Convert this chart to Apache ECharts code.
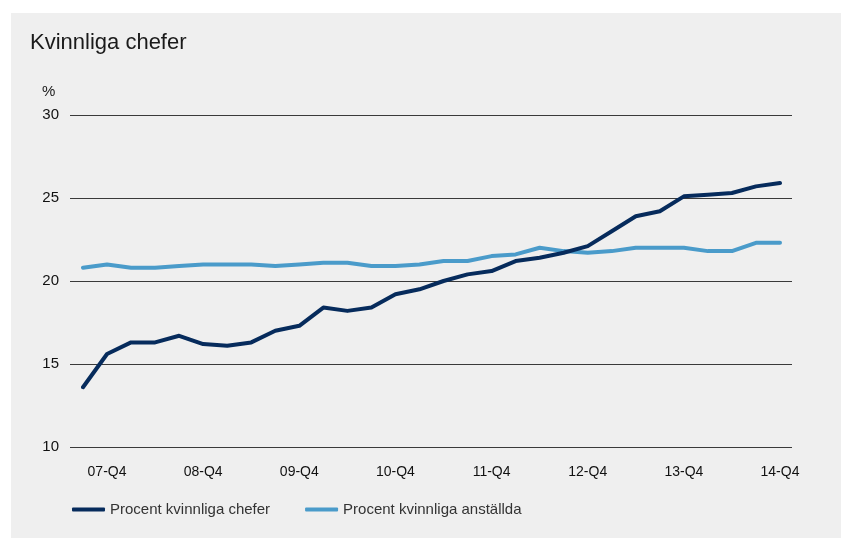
<!DOCTYPE html>
<html>
<head>
<meta charset="utf-8">
<script src="https://cdn.jsdelivr.net/npm/echarts@6/dist/echarts.min.js"></script>
<style>
html,body{margin:0;padding:0;background:#ffffff;}
#chart{position:absolute;left:11px;top:13px;width:830px;height:525px;background:#efefef;}
</style>
</head>
<body>
<div id="chart"></div>
<script>
var categories = ['07-Q3','07-Q4','08-Q1','08-Q2','08-Q3','08-Q4','09-Q1','09-Q2','09-Q3','09-Q4',
  '10-Q1','10-Q2','10-Q3','10-Q4','11-Q1','11-Q2','11-Q3','11-Q4','12-Q1','12-Q2',
  '12-Q3','12-Q4','13-Q1','13-Q2','13-Q3','13-Q4','14-Q1','14-Q2','14-Q3','14-Q4'];
var chefer = [13.6,15.6,16.3,16.3,16.7,16.2,16.1,16.3,17.0,17.3,
  18.4,18.2,18.4,19.2,19.5,20.0,20.4,20.6,21.2,21.4,
  21.7,22.1,23.0,23.9,24.2,25.1,25.2,25.3,25.7,25.9];
var anstallda = [20.8,21.0,20.8,20.8,20.9,21.0,21.0,21.0,20.9,21.0,
  21.1,21.1,20.9,20.9,21.0,21.2,21.2,21.5,21.6,22.0,
  21.8,21.7,21.8,22.0,22.0,22.0,21.8,21.8,22.3,22.3];
var yTicks = [10, 15, 20, 25, 30];
var seriesNames = ['Procent kvinnliga chefer', 'Procent kvinnliga anställda'];
var titleText = 'Kvinnliga chefer';
var unitText = '%';

var FONT = '"Liberation Sans", Arial, Helvetica, sans-serif';
var chart = echarts.init(document.getElementById('chart'), null, {renderer: 'canvas'});
var option = {
  backgroundColor: 'transparent',
  animation: false,
  title: {
    text: titleText, left: 14, top: 14,
    textStyle: {fontFamily: FONT, fontSize: 22, fontWeight: 'normal', color: '#1a1a1a'}
  },
  graphic: [{
    type: 'text', left: 31, top: 71,
    style: {text: unitText, fontFamily: FONT, fontSize: 15, fill: '#1a1a1a'}
  }],
  legend: {
    left: 56, top: 484, itemWidth: 33, itemHeight: 4, itemGap: 35,
    icon: 'roundRect',
    textStyle: {fontFamily: FONT, fontSize: 15, color: '#333'},
    data: seriesNames
  },
  grid: [
    {left: 59, right: 49, top: 102, bottom: 91},
    {left: 72, right: 61, top: 102, bottom: 91}
  ],
  xAxis: [
    {gridIndex: 0, type: 'value', min: 0, max: 1, show: false},
    {gridIndex: 1, type: 'category', data: categories, boundaryGap: false,
     axisLine: {show: false}, axisTick: {show: false}, splitLine: {show: false},
     axisLabel: {
       interval: function (i, v) { return /Q4$/.test(v); },
       margin: 18, fontFamily: FONT, fontSize: 14, color: '#111'
     }}
  ],
  yAxis: [
    {gridIndex: 0, type: 'value', min: yTicks[0], max: yTicks[yTicks.length - 1], interval: yTicks[1] - yTicks[0],
     axisLine: {show: false}, axisTick: {show: false},
     splitLine: {show: true, lineStyle: {color: '#3a3a3a', width: 1}},
     axisLabel: {margin: 11, fontFamily: FONT, fontSize: 15, color: '#111'}},
    {gridIndex: 1, type: 'value', min: yTicks[0], max: yTicks[yTicks.length - 1], interval: yTicks[1] - yTicks[0],
     show: false}
  ],
  series: [
    {name: seriesNames[0], type: 'line', xAxisIndex: 1, yAxisIndex: 1, data: chefer,
     showSymbol: false, symbol: 'none', color: '#062b5c',
     lineStyle: {width: 4, color: '#062b5c', cap: 'round', join: 'round'}, z: 3},
    {name: seriesNames[1], type: 'line', xAxisIndex: 1, yAxisIndex: 1, data: anstallda,
     showSymbol: false, symbol: 'none', color: '#4a9bca',
     lineStyle: {width: 4, color: '#4a9bca', cap: 'round', join: 'round'}, z: 2}
  ]
};
chart.setOption(option);
</script>
</body>
</html>
